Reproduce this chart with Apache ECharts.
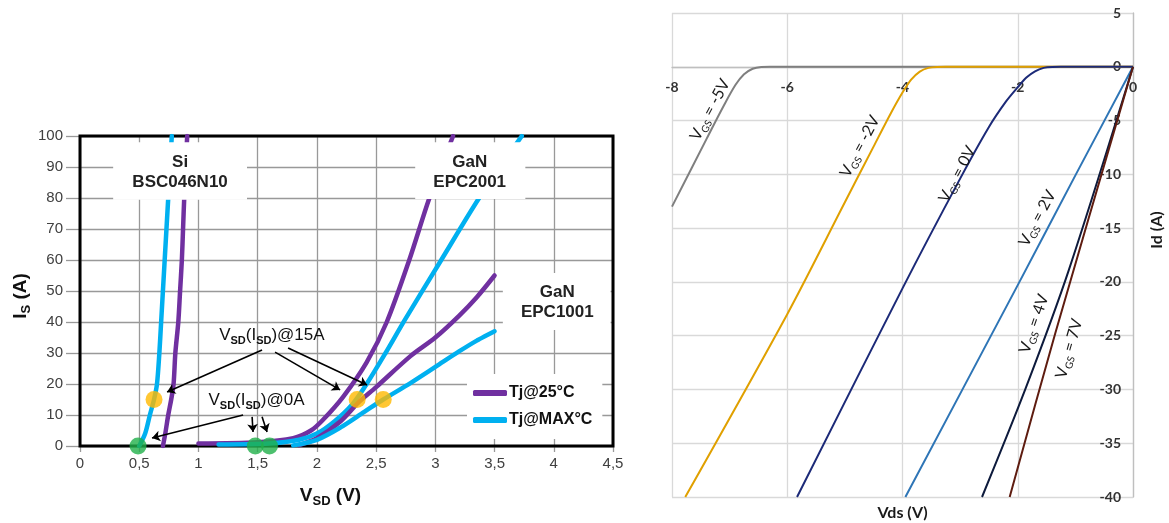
<!DOCTYPE html>
<html><head><meta charset="utf-8">
<script src="https://cdn.jsdelivr.net/npm/echarts/dist/echarts.min.js"></script>
<style>html,body{margin:0;padding:0;background:#fff}#c{width:1169px;height:523px}</style>
</head><body><div id="c"></div>
<script>
// ---------- Left panel: Is vs VSD ----------
const leftLegendNames = ['Tj@25°C', 'Tj@MAX°C'];
const siTj25 = [[0.7,0],[0.72,4],[0.745,10],[0.77,15],[0.79,20],[0.805,30],[0.83,40],[0.845,50],[0.86,60],[0.87,70],[0.88,80],[0.905,100]];
const siTjMax = [[0.5,0],[0.55,4],[0.59,10],[0.625,15],[0.65,20],[0.67,30],[0.685,40],[0.715,60],[0.745,80],[0.775,100]];
const epc2001Tj25 = [[1.0,0.8],[1.5,1.2],[1.8,2.5],[1.95,5],[2.05,8.4],[2.22,15.8],[2.42,27],[2.59,40],[2.78,60],[2.95,80],[3.15,100]];
const epc2001TjMax = [[1.17,0.5],[1.6,0.8],[1.85,2],[2.0,4],[2.15,8],[2.3,13.5],[2.42,20],[2.58,30],[2.74,40.5],[3.05,60],[3.37,80],[3.73,100]];
const epc1001Tj25 = [[1.85,0.3],[2.0,2.5],[2.2,8],[2.35,14],[2.5,19],[2.79,29],[3.0,35],[3.2,42],[3.35,48],[3.5,55]];
const epc1001TjMax = [[1.8,0.2],[2.0,2],[2.2,6],[2.4,11],[2.56,15],[2.79,20.3],[3.0,25.5],[3.2,30.5],[3.35,34],[3.5,37]];
const dotsAt0A = [[0.49,0],[1.48,0],[1.6,0]];
const dotsAt15A = [[0.625,15],[2.34,15],[2.56,15]];
const arrowsAt15A = [[[1.537,31.0],[0.735,17.4]],[[1.647,30.3],[2.196,18.1]],[[1.757,31.6],[2.424,19.7]]];
const arrowsAt0A = [[[1.377,10.0],[0.608,2.6]],[[1.453,9.4],[1.461,4.5]],[[1.537,9.4],[1.579,4.5]]];
const leftBoxes = [
  {lines:['Si','BSC046N10'], x0:0.28, x1:1.41, y0:79.4, y1:98, cx:0.845, cy:88.4},
  {lines:['GaN','EPC2001'], x0:2.83, x1:3.76, y0:79.7, y1:98, cx:3.29, cy:88.4},
  {lines:['GaN','EPC1001'], x0:3.57, x1:4.48, y0:37.4, y1:55.8, cx:4.03, cy:46.5}
];
const annot15A = {x:1.62, y:35.8, tail:'@15A'};
const annot0A = {x:1.49, y:14.8, tail:'@0A'};

// ---------- Right panel: Id vs Vds ----------
const vgsNames = ['-5V','-2V','0V','2V','4V','7V'];
const vgsM5 = [[-8,-13],[-7.4,-6.7],[-7.1,-3.6],[-6.9,-1.7],[-6.75,-0.7],[-6.6,-0.18],[-6.45,-0.02],[-6.3,0],[0,0]];
const vgsM2 = [[-7.77,-40],[-6,-23],[-5,-12.6],[-4.5,-7.4],[-4.2,-4.3],[-4,-2.4],[-3.85,-1.2],[-3.7,-0.45],[-3.55,-0.1],[-3.4,-0.01],[-3.25,0],[0,0]];
const vgs0 = [[-5.83,-40],[-4,-20.6],[-3,-10.4],[-2.5,-5.6],[-2.2,-3.2],[-2,-1.9],[-1.85,-1.0],[-1.7,-0.42],[-1.55,-0.1],[-1.4,-0.01],[-1.25,0],[0,0]];
const vgs2 = [[-3.95,-40],[-2,-20.3],[-1,-10.1],[0,0]];
const vgs4 = [[-2.62,-40],[-1.87,-30],[-1.12,-19],[0,0]];
const vgs7 = [[-2.14,-40],[-1.35,-24.8],[0,0]];
const vgsColors = ['#7f7f7f','#e0a000','#1c2a78','#2e75b6','#0d1a3c','#5e1c10'];
const vgsLabelPos = [[-7.34,-4.0,62],[-4.74,-7.4,62],[-3.05,-10.0,62],[-1.66,-14.1,62],[-1.72,-23.9,71],[-1.11,-26.2,74]];

const PURPLE = '#7030a0', CYAN = '#00b0f0';
const AR = 'Liberation Sans', CAL = 'Lato';
const RG = {left:672, top:13, width:461, height:484};
const RY = {min:-40, max:5};

const chart = echarts.init(document.getElementById('c'), null, {renderer:'canvas'});

function leftLine(name, data, color){
  return {type:'line', name, data, xAxisIndex:0, yAxisIndex:0, showSymbol:false, smooth:0.3,
    lineStyle:{color, width:4.5, cap:'round', join:'round'}, itemStyle:{color}, z:2};
}
function rightLine(i, data){
  return {type:'line', name:'VGS = '+vgsNames[i], data, xAxisIndex:1, yAxisIndex:1, showSymbol:false,
    smooth:0.3, lineStyle:{color:vgsColors[i], width:2, join:'round'}, itemStyle:{color:vgsColors[i]}, z:2};
}
function arrowSeries(arr){
  return {type:'lines', coordinateSystem:'cartesian2d', xAxisIndex:0, yAxisIndex:0,
    symbol:['none','arrow'], symbolSize:8, z:6,
    lineStyle:{color:'#000', width:1.6, opacity:1, curveness:0},
    data: arr.map(c => ({coords:c}))};
}

const option = {
  animation:false,
  backgroundColor:'#fff',
  grid:[{left:80, top:136, width:533, height:310}, RG],
  xAxis:[
    {gridIndex:0, type:'value', min:0, max:4.5, interval:0.5,
     axisLine:{show:false}, axisTick:{show:true, length:6, lineStyle:{color:'#999', width:1.3}},
     axisLabel:{margin:10, fontSize:15, color:'#404040', fontFamily:AR, formatter:v => String(v).replace('.', ',')},
     splitLine:{show:true, lineStyle:{color:'#999', width:1.3}}},
    {gridIndex:1, type:'value', min:-8, max:0, interval:2, position:'top',
     offset: -RG.height*RY.max/(RY.max-RY.min),
     axisLine:{show:true, onZero:false, lineStyle:{color:'#bfbfbf', width:1.3}}, axisTick:{show:false},
     axisLabel:{inside:true, margin:14, fontSize:14, fontWeight:'bold', color:'#333', fontFamily:CAL},
     splitLine:{show:true, lineStyle:{color:'#d9d9d9', width:1.3}}}
  ],
  yAxis:[
    {gridIndex:0, type:'value', min:0, max:100, interval:10,
     axisLine:{show:false}, axisTick:{show:true, length:14, lineStyle:{color:'#999', width:1.3}},
     axisLabel:{margin:17, fontSize:15, color:'#404040', fontFamily:AR},
     splitLine:{show:true, lineStyle:{color:'#999', width:1.3}}},
    {gridIndex:1, type:'value', position:'right', min:RY.min, max:RY.max, interval:5,
     axisLine:{show:true, onZero:false, lineStyle:{color:'#bfbfbf', width:1.3}}, axisTick:{show:false},
     axisLabel:{inside:true, margin:12, fontSize:14, fontWeight:'bold', color:'#333', fontFamily:CAL},
     splitLine:{show:true, lineStyle:{color:'#d9d9d9', width:1.3}}}
  ],
  legend:{data:leftLegendNames, orient:'vertical', left:467, top:374, padding:[11,10,11,6],
    backgroundColor:'#fff', itemWidth:34, itemHeight:6, itemGap:11, icon:'roundRect', selectedMode:false,
    textStyle:{fontSize:16, fontWeight:'bold', fontFamily:AR, color:'#111', padding:[0,0,0,-3]}, z:4},
  series:[
    leftLine(leftLegendNames[0], epc2001Tj25, PURPLE),
    leftLine(leftLegendNames[1], epc2001TjMax, CYAN),
    leftLine(leftLegendNames[0], epc1001Tj25, PURPLE),
    leftLine(leftLegendNames[1], epc1001TjMax, CYAN),
    leftLine(leftLegendNames[0], siTj25, PURPLE),
    leftLine(leftLegendNames[1], siTjMax, CYAN),
    {type:'scatter', name:'dots0', data:dotsAt0A, xAxisIndex:0, yAxisIndex:0, symbolSize:17, clip:false,
     itemStyle:{color:'#20b04a'}, z:4},
    {type:'scatter', name:'dots15', data:dotsAt15A, xAxisIndex:0, yAxisIndex:0, symbolSize:17, clip:false,
     itemStyle:{color:'#ffb900'}, z:4},
    arrowSeries(arrowsAt15A),
    arrowSeries(arrowsAt0A),
    rightLine(0, vgsM5), rightLine(1, vgsM2), rightLine(2, vgs0),
    rightLine(3, vgs2), rightLine(4, vgs4), rightLine(5, vgs7)
  ]
};
chart.setOption(option);

// ---------- annotations (positioned through the axes) ----------
const P0 = p => chart.convertToPixel({gridIndex:0}, p);
const P1 = p => chart.convertToPixel({gridIndex:1}, p);
const g = [];
const tl = P0([0,100]), br = P0([4.5,0]);
g.push({type:'rect', z:1, silent:true, shape:{x:tl[0], y:tl[1], width:br[0]-tl[0], height:br[1]-tl[1]},
  style:{fill:null, stroke:'#000', lineWidth:3}});
leftBoxes.forEach(b => {
  const a = P0([b.x0,b.y1]), c = P0([b.x1,b.y0]), m = P0([b.cx,b.cy]);
  g.push({type:'rect', z:10, silent:true, shape:{x:a[0], y:a[1], width:c[0]-a[0], height:c[1]-a[1]}, style:{fill:'#fff'}});
  g.push({type:'text', z:11, silent:true, x:m[0], y:m[1],
    style:{text:b.lines.join('\n'), font:'bold 17px "Liberation Sans"', lineHeight:20, fill:'#222', align:'center', verticalAlign:'middle'}});
});
const vsdRich = {
  b:{fontSize:17, fontFamily:AR, lineHeight:22, verticalAlign:'middle', fill:'#111'},
  s:{fontSize:11, fontFamily:AR, fontWeight:'bold', lineHeight:11, verticalAlign:'bottom', fill:'#111'}
};
[annot15A, annot0A].forEach(t => {
  const m = P0([t.x,t.y]);
  g.push({type:'text', z:11, silent:true, x:m[0], y:m[1],
    style:{text:'{b|V}{s|SD}{b|(I}{s|SD}{b|)'+t.tail+'}', rich:vsdRich, align:'center', verticalAlign:'middle', fill:'#111'}});
});
const boldRich = {
  b:{fontSize:19, fontFamily:AR, fontWeight:'bold', lineHeight:24, verticalAlign:'middle', fill:'#111'},
  s:{fontSize:13, fontFamily:AR, fontWeight:'bold', lineHeight:20, verticalAlign:'bottom', fill:'#111'}
};
g.push({type:'text', silent:true, x:(tl[0]+br[0])/2-16, y:496,
  style:{text:'{b|V}{s|SD}{b| (V)}', rich:boldRich, align:'center', verticalAlign:'middle'}});
g.push({type:'text', silent:true, x:21, y:296, rotation:Math.PI/2,
  style:{text:'{b|I}{s|S}{b| (A)}', rich:boldRich, align:'center', verticalAlign:'middle'}});
const vgsRich = {
  n:{fontSize:16, fontFamily:CAL, lineHeight:20, verticalAlign:'middle', fill:'#1a1a1a'},
  s:{fontSize:10, fontFamily:CAL, lineHeight:10, verticalAlign:'bottom', fill:'#1a1a1a'}
};
vgsLabelPos.forEach((p, i) => {
  const m = P1([p[0], p[1]]);
  g.push({type:'text', z:11, silent:true, x:m[0], y:m[1], rotation:p[2]*Math.PI/180,
    style:{text:'{n|V}{s|GS}{n| = '+vgsNames[i]+'}', rich:vgsRich, align:'center', verticalAlign:'middle'}});
});
const rtl = P1([-8,5]), rbr = P1([0,-40]);
g.push({type:'text', silent:true, x:(rtl[0]+rbr[0])/2, y:513,
  style:{text:'Vds (V)', font:'bold 16px Lato', fill:'#1a1a1a', align:'center', verticalAlign:'middle'}});
g.push({type:'text', silent:true, x:1157, y:230, rotation:Math.PI/2,
  style:{text:'Id (A)', font:'bold 16px Lato', fill:'#1a1a1a', align:'center', verticalAlign:'middle'}});
chart.setOption({graphic:g});
</script></body></html>
